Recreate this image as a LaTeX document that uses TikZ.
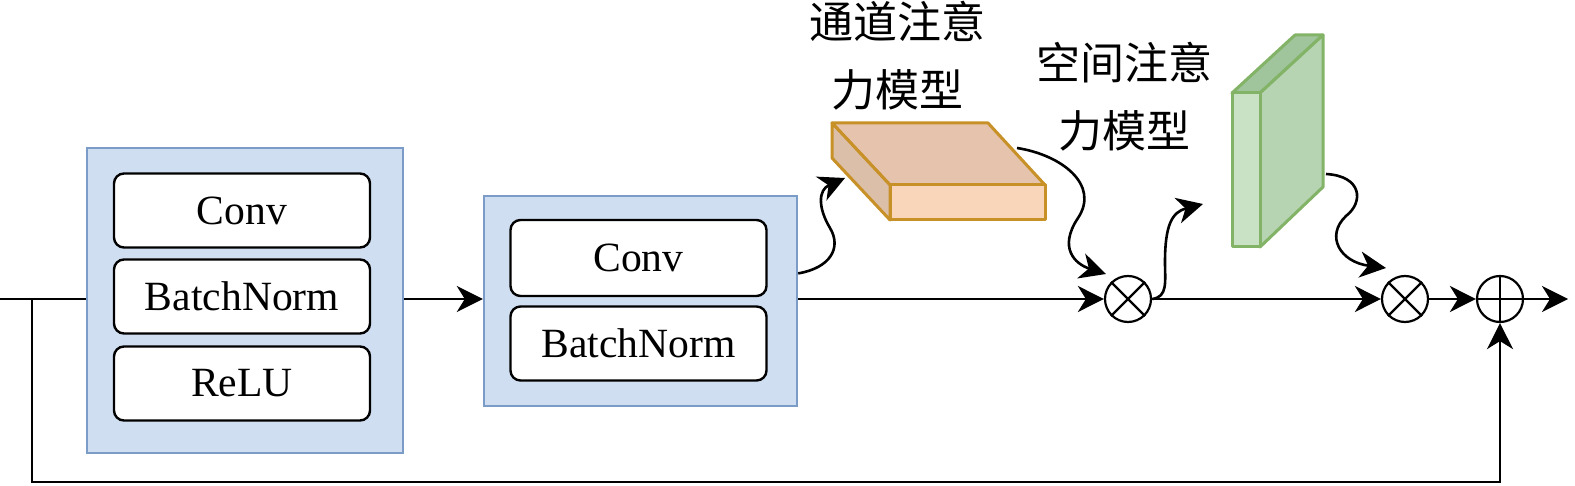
\documentclass[tikz,border=0pt]{standalone}
\usepackage{fontspec}
\setmainfont{Liberation Serif}
\newfontfamily\cjk{Noto Sans CJK SC}
\usetikzlibrary{arrows.meta,calc}
\definecolor{outfill}{HTML}{CFDEF0}
\definecolor{outdraw}{HTML}{7C9CC8}
\definecolor{otop}{HTML}{E6C3AC}
\definecolor{ofront}{HTML}{F9D5BA}
\definecolor{oside}{HTML}{DCBFA9}
\definecolor{odraw}{HTML}{C89128}
\definecolor{gtop}{HTML}{A0C49C}
\definecolor{gfront}{HTML}{C9E2C6}
\definecolor{gside}{HTML}{B6D4B2}
\definecolor{gdraw}{HTML}{82B366}
\tikzset{
  outerbox/.style={draw=outdraw, fill=outfill, line width=1.2pt, inner sep=0pt},
  layerbox/.style={draw=black, fill=white, rounded corners=5pt, line width=1.2pt, minimum width=128pt, minimum height=37pt, inner sep=0pt, font=\fontsize{20.8}{24}\selectfont},
  opnode/.style={circle, draw=black, line width=1.1pt, minimum size=23pt, inner sep=0pt},
  conn/.style={line width=1.3pt, draw=black},
  arr/.style={conn, -{Stealth[length=13pt, width=13pt, inset=4pt]}},
  cjklabel/.style={align=center, font=\cjk\fontsize{22}{34}\selectfont, inner sep=0pt},
}
\begin{document}
\begin{tikzpicture}[x=0.5pt, y=-0.5pt]
\useasboundingbox (0,0) rectangle (1575,486);
% blocks
\node[outerbox, minimum width=158pt, minimum height=152.5pt] (b1) at (245,300.5) {};
\node[layerbox] (b1c) at (242,210.5) {Conv};
\node[layerbox] (b1b) at (242,296.5) {BatchNorm};
\node[layerbox] (b1r) at (242,383.5) {ReLU};
\node[outerbox, minimum width=156.5pt, minimum height=105pt] (b2) at (640.5,301) {};
\node[layerbox, minimum height=38pt] (b2c) at (638.5,258) {Conv};
\node[layerbox] (b2b) at (638.5,343.5) {BatchNorm};
% operators
\node[opnode] (m1) at (1128,299) {};
\draw[line width=1.1pt] (m1.north west) -- (m1.south east) (m1.north east) -- (m1.south west);
\node[opnode] (m2) at (1405,299) {};
\draw[line width=1.1pt] (m2.north west) -- (m2.south east) (m2.north east) -- (m2.south west);
\node[opnode] (p) at (1500,299) {};
\draw[line width=1.1pt] (p.north) -- (p.south) (p.west) -- (p.east);
% channel attention box
\filldraw[fill=otop, draw=odraw, line width=1.5pt, line join=round] (832,123) -- (988,123) -- (1045,185) -- (890,185) -- cycle;
\filldraw[fill=ofront, draw=odraw, line width=1.5pt, line join=round] (890,185) -- (1045,185) -- (1045,220) -- (890,220) -- cycle;
\filldraw[fill=oside, draw=odraw, line width=1.5pt, line join=round] (832,123) -- (890,185) -- (890,220) -- (832,158) -- cycle;
\coordinate (cin) at (845,178);
\coordinate (cout) at (1017,148);
% spatial attention box
\filldraw[fill=gtop, draw=gdraw, line width=1.5pt, line join=round] (1232,93) -- (1295,35) -- (1323,35) -- (1260,93) -- cycle;
\filldraw[fill=gside, draw=gdraw, line width=1.5pt, line join=round] (1260,93) -- (1323,35) -- (1323,187) -- (1260,247) -- cycle;
\filldraw[fill=gfront, draw=gdraw, line width=1.5pt, line join=round] (1232,93) -- (1260,93) -- (1260,247) -- (1232,247) -- cycle;
\coordinate (sin) at (1203,204);
\coordinate (sout) at (1326,174);
% labels
\node[cjklabel] (lc) at (897,56) {通道注意\\力模型};
\node[cjklabel] (ls) at (1124,97) {空间注意\\力模型};
% main path
\coordinate (in) at (0,299);
\coordinate (br) at (32,299);
\coordinate (bl) at (32,482);
\coordinate (out) at (1568,299);
\draw[conn] (in) -- (b1.west |- in);
\draw[arr] (b1.east |- in) -- (b2.west |- in);
\draw[arr] (b2.east |- m1) -- (m1);
\draw[arr] (m1) -- (m2);
\draw[arr] (m2) -- (p);
\draw[arr] (p) -- (out);
\draw[arr] (br) -- (bl) -| (p.south);
% wavy connectors
\draw[arr] ($(b2.north east)!0.37!(b2.south east)$) .. controls (830,268) and (842,248) .. (830,228) .. controls (818,208) and (818,190) .. (cin);
\draw[arr] (cout) .. controls (1062,155) and (1100,185) .. (1078,218) .. controls (1058,248) and (1075,264) .. (1106,274);
\draw[arr] (m1.east) .. controls (1168,297) and (1165,282) .. (1165,262) .. controls (1165,225) and (1172,212) .. (sin);
\draw[arr] (sout) .. controls (1362,176) and (1364,202) .. (1346,216) .. controls (1325,236) and (1340,262) .. (1386,268);
\end{tikzpicture}
\end{document}
